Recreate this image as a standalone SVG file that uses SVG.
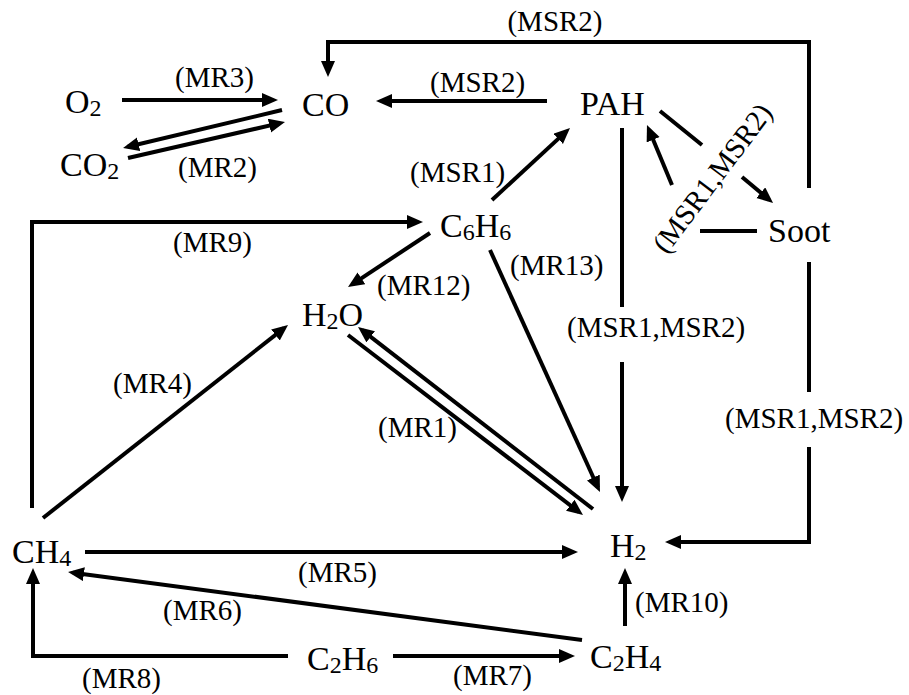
<svg xmlns="http://www.w3.org/2000/svg" width="909" height="695" viewBox="0 0 909 695">
  <style>
    .node { font-family: "Liberation Serif", "Times New Roman", serif; font-size: 34px; fill: #000; }
    .sub { font-size: 24px; }
    .lbl { font-family: "Liberation Serif", "Times New Roman", serif; font-size: 29px; fill: #000; }
    .edge { fill: none; stroke: #000; stroke-width: 4; }
  </style>
  <defs>
    <marker id="arrow" markerUnits="userSpaceOnUse" markerWidth="20" markerHeight="16" refX="11" refY="7" orient="auto">
      <path d="M0,0 L16,7 L0,14 z" fill="#000"/>
    </marker>
  </defs>
  <rect width="909" height="695" fill="#fff"/>

  <!-- connectors -->
  <g id="connectors">
    <line class="edge" x1="122" y1="100" x2="273" y2="100" marker-end="url(#arrow)"/>
    <line class="edge" x1="282" y1="110" x2="127.9" y2="146.8" marker-end="url(#arrow)"/>
    <line class="edge" x1="128" y1="158" x2="280.1" y2="123.1" marker-end="url(#arrow)"/>
    <path class="edge" d="M809,188 V42 H328 V72" marker-end="url(#arrow)"/>
    <line class="edge" x1="547" y1="101" x2="381" y2="101" marker-end="url(#arrow)"/>
    <line class="edge" x1="492" y1="200" x2="566.3" y2="131.4" marker-end="url(#arrow)"/>
    <line class="edge" x1="622" y1="128" x2="622" y2="307"/>
    <line class="edge" x1="622" y1="362" x2="622" y2="497" marker-end="url(#arrow)"/>
    <line class="edge" x1="757" y1="231" x2="700" y2="231"/>
    <line class="edge" x1="672" y1="185" x2="648.9" y2="129.6" marker-end="url(#arrow)"/>
    <line class="edge" x1="660" y1="111" x2="702" y2="145"/>
    <line class="edge" x1="742" y1="177" x2="769.2" y2="199.8" marker-end="url(#arrow)"/>
    <line class="edge" x1="809" y1="262" x2="809" y2="392"/>
    <path class="edge" d="M809,447 V542 H670" marker-end="url(#arrow)"/>
    <line class="edge" x1="430" y1="233" x2="352.2" y2="284.3" marker-end="url(#arrow)"/>
    <line class="edge" x1="490" y1="250" x2="597.9" y2="487.5" marker-end="url(#arrow)"/>
    <line class="edge" x1="348" y1="335" x2="579" y2="512" marker-end="url(#arrow)"/>
    <line class="edge" x1="593" y1="509" x2="362" y2="330.1" marker-end="url(#arrow)"/>
    <line class="edge" x1="43" y1="518" x2="284.1" y2="328.1" marker-end="url(#arrow)"/>
    <path class="edge" d="M32,508 V222 H418" marker-end="url(#arrow)"/>
    <line class="edge" x1="85" y1="552" x2="573" y2="552" marker-end="url(#arrow)"/>
    <line class="edge" x1="582" y1="640" x2="73" y2="572.7" marker-end="url(#arrow)"/>
    <path class="edge" d="M288,656 H33 V573" marker-end="url(#arrow)"/>
    <line class="edge" x1="393" y1="656" x2="570" y2="656" marker-end="url(#arrow)"/>
    <line class="edge" x1="625" y1="626" x2="625" y2="573" marker-end="url(#arrow)"/>
  </g>

  <!-- reaction labels -->
  <g id="labels">
    <text class="lbl" x="555" y="31" text-anchor="middle">(MSR2)</text>
    <text class="lbl" x="175" y="87">(MR3)</text>
    <text class="lbl" x="178" y="177">(MR2)</text>
    <text class="lbl" x="430" y="92">(MSR2)</text>
    <text class="lbl" x="410" y="182">(MSR1)</text>
    <text class="lbl" transform="translate(712,178) rotate(-53)" x="0" y="10" text-anchor="middle">(MSR1,MSR2)</text>
    <text class="lbl" x="173" y="252">(MR9)</text>
    <text class="lbl" x="377" y="295">(MR12)</text>
    <text class="lbl" x="510" y="275">(MR13)</text>
    <text class="lbl" x="567" y="337">(MSR1,MSR2)</text>
    <text class="lbl" x="725" y="428">(MSR1,MSR2)</text>
    <text class="lbl" x="113" y="393">(MR4)</text>
    <text class="lbl" x="378" y="437">(MR1)</text>
    <text class="lbl" x="298" y="582">(MR5)</text>
    <text class="lbl" x="163" y="620">(MR6)</text>
    <text class="lbl" x="635" y="612">(MR10)</text>
    <text class="lbl" x="82" y="688">(MR8)</text>
    <text class="lbl" x="453" y="685">(MR7)</text>
  </g>

  <!-- species -->
  <g id="O2"><text class="node" x="65" y="113">O<tspan class="sub" dy="3">2</tspan></text></g>
  <g id="CO"><text class="node" x="302" y="116">CO</text></g>
  <g id="CO2"><text class="node" x="60" y="176">CO<tspan class="sub" dy="3">2</tspan></text></g>
  <g id="PAH"><text class="node" x="580" y="115">PAH</text></g>
  <g id="Soot"><text class="node" x="768" y="242">Soot</text></g>
  <g id="C6H6"><text class="node" x="440" y="237">C<tspan class="sub" dy="3">6</tspan><tspan dy="-3">H</tspan><tspan class="sub" dy="3">6</tspan></text></g>
  <g id="H2O"><text class="node" x="302" y="326">H<tspan class="sub" dy="3">2</tspan><tspan dy="-3">O</tspan></text></g>
  <g id="CH4"><text class="node" x="12" y="563">CH<tspan class="sub" dy="3">4</tspan></text></g>
  <g id="H2"><text class="node" x="610" y="557">H<tspan class="sub" dy="3">2</tspan></text></g>
  <g id="C2H6"><text class="node" x="307" y="670">C<tspan class="sub" dy="3">2</tspan><tspan dy="-3">H</tspan><tspan class="sub" dy="3">6</tspan></text></g>
  <g id="C2H4"><text class="node" x="590" y="668">C<tspan class="sub" dy="3">2</tspan><tspan dy="-3">H</tspan><tspan class="sub" dy="3">4</tspan></text></g>
</svg>
